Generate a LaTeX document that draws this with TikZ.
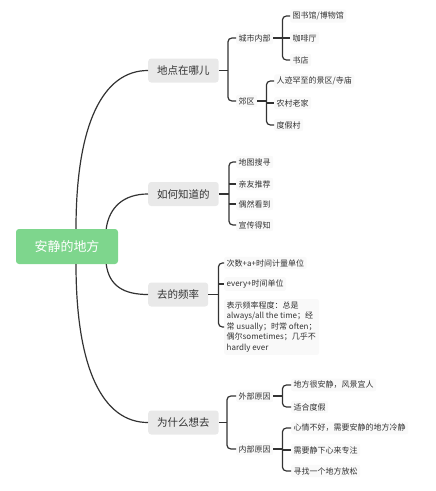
\documentclass[tikz,border=0pt]{standalone}
\usepackage{fontspec}
\setmainfont{Noto Sans CJK SC}
\usetikzlibrary{calc}
\definecolor{rootgreen}{RGB}{126,214,141}
\definecolor{ink}{RGB}{51,51,51}
\tikzset{centre/.style={fill=rootgreen,text=white,rounded corners=3pt,minimum width=102pt,minimum height=35pt,font=\fontsize{13}{15}\selectfont},
 topic/.style={fill=gray!17,text=ink,rounded corners=3pt,minimum height=24pt,inner xsep=9pt,anchor=west,font=\fontsize{10.5}{12}\selectfont},
 leaf/.style={fill=gray!5,text=ink,rounded corners=2pt,inner sep=2.5pt,anchor=west,font=\fontsize{8}{10.5}\selectfont},
 link/.style={draw=ink,line width=1.2pt},
 wire/.style={draw=ink,line width=1.2pt,rounded corners=4pt}}
\begin{document}
\begin{tikzpicture}[x=1pt,y=-1pt]
\useasboundingbox (0,0) rectangle (436,491);
\node[centre] (root) at (67,246.5) {安静的地方};
\node[topic] (where) at (148,70.5) {地点在哪儿};
\node[topic] (how) at (148,194) {如何知道的};
\node[topic] (freq) at (148,294.5) {去的频率};
\node[topic] (why) at (148,422.5) {为什么想去};
% root to topics
\draw[link] ($(root.north)+(9,0)$) .. controls +(0,-105) and +(-45,0) .. (where.west);
\draw[link] ($(root.north east)+(-12,0)$) .. controls +(3,-22) and +(-24,0) .. (how.west);
\draw[link] ($(root.south east)+(-12,0)$) .. controls +(3,22) and +(-24,0) .. (freq.west);
\draw[link] ($(root.south)+(9,0)$) .. controls +(0,105) and +(-45,0) .. (why.west);
% where
\node[leaf] (city) at (236,38) {城市内部};
\node[leaf] (out) at (236,101) {郊区};
\node[leaf] (lib) at (290,16) {图书馆/博物馆};
\node[leaf] (cafe) at (290,38) {咖啡厅};
\node[leaf] (book) at (290,60) {书店};
\node[leaf] (temple) at (274,81) {人迹罕至的景区/寺庙};
\node[leaf] (home) at (274,103) {农村老家};
\node[leaf] (resort) at (274,125) {度假村};
\path (where.east) ++(9,0) coordinate (j1);
\draw[wire] (where.east) -- (j1);
\draw[wire] (city.west) -| (j1) |- (out.west);
\path (city.east) ++(9,0) coordinate (j2);
\draw[wire] (city.east) -- (j2);
\draw[wire] (lib.west) -| (j2) |- (book.west);
\draw[wire] (j2|-cafe.west) -- (cafe.west);
\path (out.east) ++(9,0) coordinate (j3);
\draw[wire] (out.east) -- (j3);
\draw[wire] (temple.west) -| (j3) |- (resort.west);
\draw[wire] (j3|-home.west) -- (home.west);
% how
\node[leaf] (map) at (236,162) {地图搜寻};
\node[leaf] (friend) at (236,184) {亲友推荐};
\node[leaf] (chance) at (236,204) {偶然看到};
\node[leaf] (ad) at (236,225) {宣传得知};
\path (how.east) ++(10,0) coordinate (j4);
\draw[wire] (how.east) -- (j4);
\draw[wire] (map.west) -| (j4) |- (ad.west);
\foreach \c in {friend,chance} {\draw[wire] (j4|-\c.west) -- (\c.west);}
% freq
\node[leaf] (times) at (224,263) {次数+a+时间计量单位};
\node[leaf] (every) at (224,284) {every+时间单位};
\node[leaf,align=left] (adv) at (224,327) {表示频率程度：总是\\always/all the time；经\\常 usually；时常 often；\\偶尔sometimes；几乎不\\hardly ever};
\path (freq.east) ++(10,0) coordinate (j5);
\draw[wire] (freq.east) -- (j5);
\draw[wire] (times.west) -| (j5) |- (adv.west);
\draw[wire] (j5|-every.west) -- (every.west);
% why
\node[leaf] (ext) at (236,396) {外部原因};
\node[leaf] (int) at (236,449) {内部原因};
\node[leaf] (calm) at (291,385) {地方很安静，风景宜人};
\node[leaf] (holiday) at (291,407) {适合度假};
\node[leaf] (mood) at (291,428) {心情不好，需要安静的地方冷静};
\node[leaf] (focus) at (291,450) {需要静下心来专注};
\node[leaf] (relax) at (291,471) {寻找一个地方放松};
\path (why.east) ++(8,0) coordinate (j6);
\draw[wire] (why.east) -- (j6);
\draw[wire] (ext.west) -| (j6) |- (int.west);
\path (ext.east) ++(9,0) coordinate (j7);
\draw[wire] (ext.east) -- (j7);
\draw[wire] (calm.west) -| (j7) |- (holiday.west);
\path (int.east) ++(9,0) coordinate (j8);
\draw[wire] (int.east) -- (j8);
\draw[wire] (mood.west) -| (j8) |- (relax.west);
\draw[wire] (j8|-focus.west) -- (focus.west);
\end{tikzpicture}
\end{document}
